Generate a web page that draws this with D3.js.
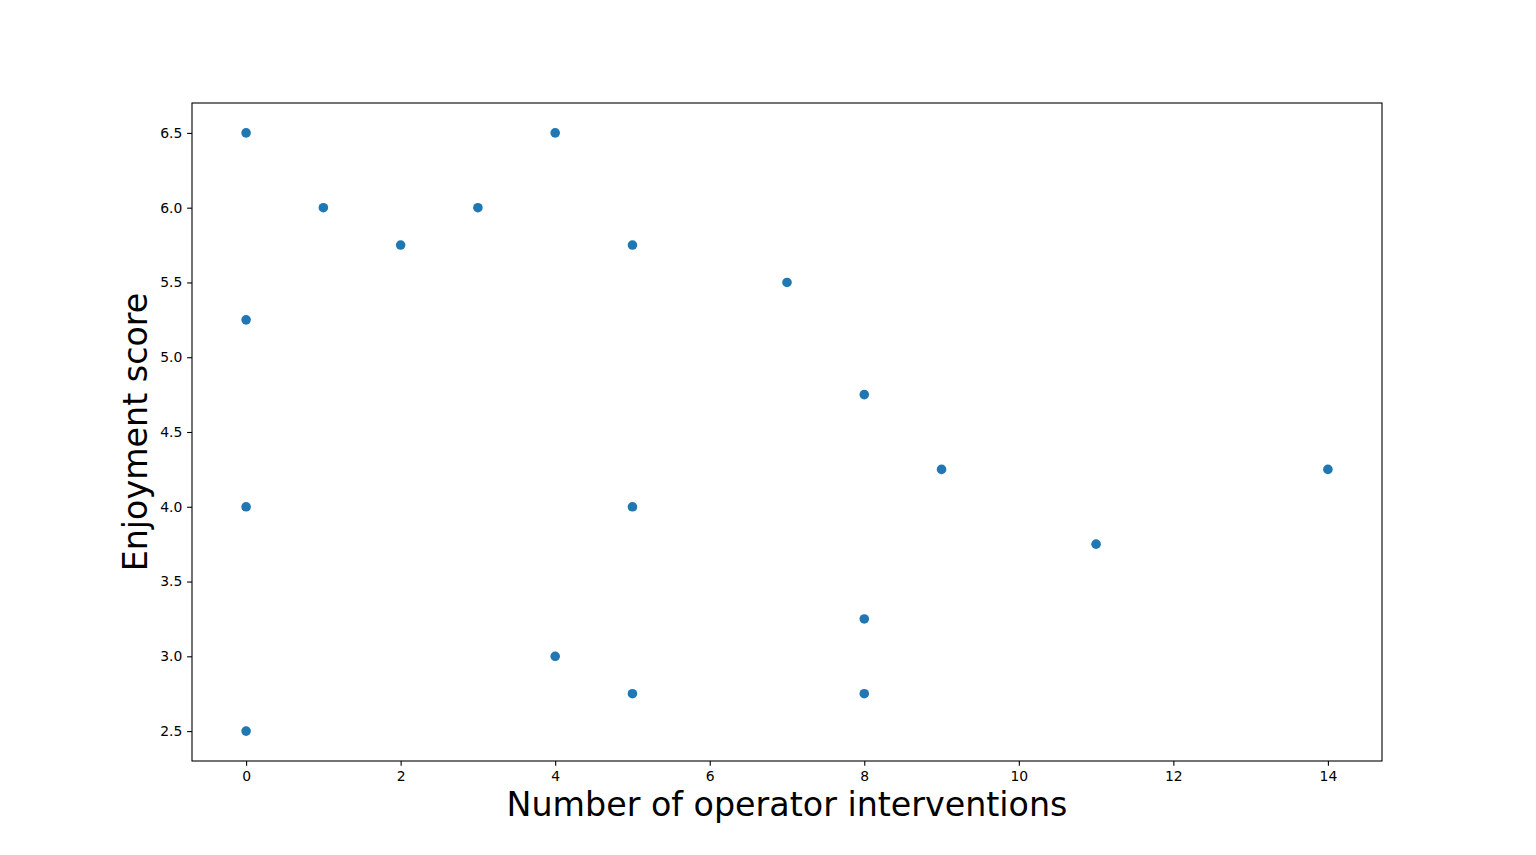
<!DOCTYPE html>
<html><head><meta charset="utf-8">
<script src="https://cdn.jsdelivr.net/npm/d3@7"></script>
<style>body{margin:0;background:#fff}svg{display:block}text{font-family:"DejaVu Sans",sans-serif}</style>
</head><body>
<script>
const interventions = [0, 4, 1, 3, 2, 5, 7, 0, 8, 9, 14, 0, 5, 11, 8, 4, 5, 8, 0];
const enjoyment = [6.5, 6.5, 6.0, 6.0, 5.75, 5.75, 5.5, 5.25, 4.75, 4.25, 4.25, 4.0, 4.0, 3.75, 3.25, 3.0, 2.75, 2.75, 2.5];
const xTicks = [0, 2, 4, 6, 8, 10, 12, 14];
const yTicks = [2.5, 3.0, 3.5, 4.0, 4.5, 5.0, 5.5, 6.0, 6.5];
const xLabel = "Number of operator interventions";
const yLabel = "Enjoyment score";

const W = 1536, H = 855;
const L = 192, R = 1382, T = 103, B = 761;
const svg = d3.select("body").append("svg").attr("width", W).attr("height", H);
const x = d3.scaleLinear().domain([-0.7, 14.7]).range([L, R]);
const y = d3.scaleLinear().domain([2.3, 6.7]).range([B, T]);

const xa = svg.append("g").attr("transform", `translate(0,${B})`)
  .call(d3.axisBottom(x).tickValues(xTicks).tickFormat(d3.format("d")).tickSize(4.86).tickPadding(4.86));
const ya = svg.append("g").attr("transform", `translate(${L},0)`)
  .call(d3.axisLeft(y).tickValues(yTicks).tickFormat(d3.format(".1f")).tickSize(4.86).tickPadding(4.86));
[xa, ya].forEach(a => {
  a.select(".domain").remove();
  a.selectAll("line").attr("stroke", "#000").attr("stroke-width", 1.1);
  a.selectAll("text").attr("font-size", 13.9).attr("fill", "#000").attr("font-family", "DejaVu Sans");
});

svg.append("g").selectAll("circle").data(interventions).join("circle")
  .attr("cx", (d) => x(d)).attr("cy", (d, i) => y(enjoyment[i]))
  .attr("r", 4.8).attr("fill", "#1f77b4");

svg.append("rect").attr("x", L).attr("y", T).attr("width", R - L).attr("height", B - T)
  .attr("fill", "none").attr("stroke", "#000").attr("stroke-width", 1.1);

svg.append("text").attr("x", (L + R) / 2).attr("y", 816).attr("text-anchor", "middle")
  .attr("font-size", 33.3).attr("fill", "#000").text(xLabel);
svg.append("text").attr("transform", `translate(147,${(T + B) / 2}) rotate(-90)`).attr("text-anchor", "middle")
  .attr("font-size", 33.3).attr("fill", "#000").text(yLabel);
</script>
</body></html>
